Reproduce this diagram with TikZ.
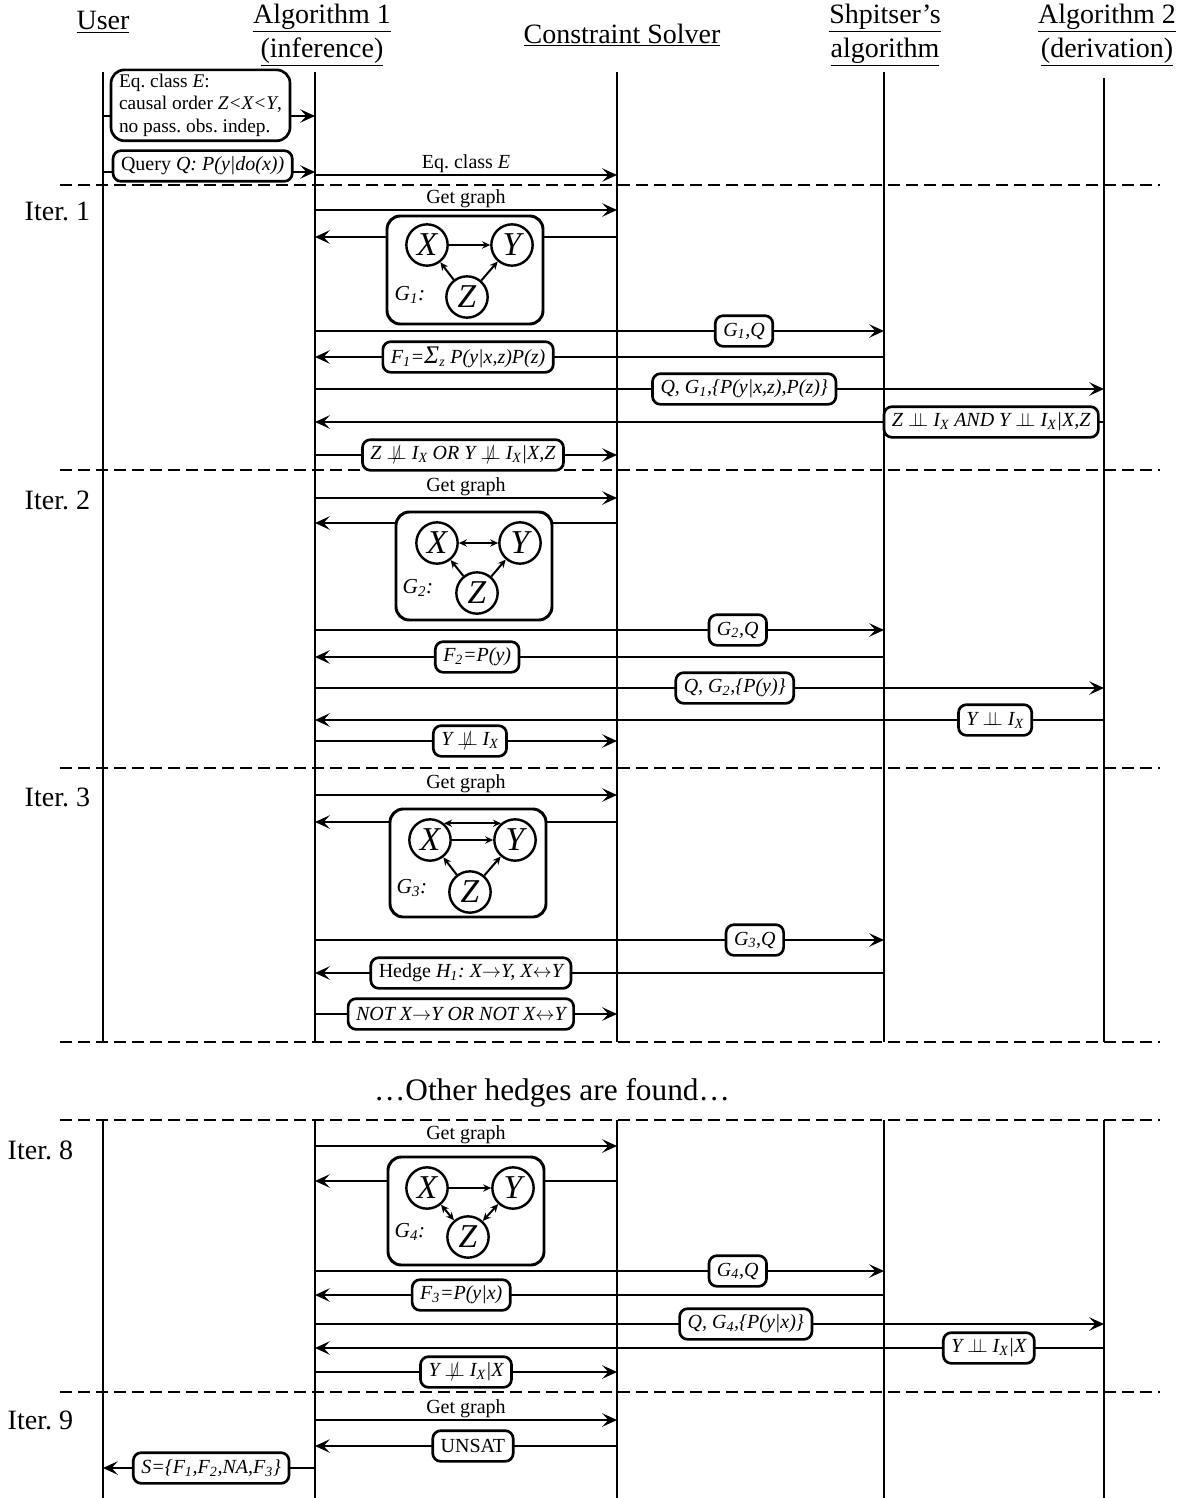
\documentclass[tikz,border=0pt]{standalone}
\usepackage{fontspec}
\setmainfont{Liberation Serif}
\usetikzlibrary{arrows.meta, positioning}
\newcommand\hdfont{\fontsize{21}{25.5}\selectfont}
\newcommand\smfont{\fontsize{15}{17.5}\selectfont}
\newcommand\indepsym{\mathrel{\perp\!\!\!\perp}}
\newcommand\nindepsym{\mathrel{\ooalign{$\perp\!\!\!\perp$\cr\hidewidth$/$\hidewidth\cr}}}
\frenchspacing

\begin{document}
\begin{tikzpicture}[x=0.75pt, y=-0.75pt,
    life/.style={line width=2.2pt},
    msg/.style={line width=2.2pt,
                -{Stealth[length=11pt, width=10pt, inset=4.5pt]}},
    itersep/.style={line width=2pt, dash pattern=on 9pt off 4.5pt},
    lbl/.style={draw, fill=white, rounded corners=6pt, line width=2pt,
                inner xsep=6pt, inner ysep=3pt, minimum height=23pt,
                font=\smfont\itshape},
    msglab/.style={above=-3pt, font=\smfont},
    hd/.style={font=\hdfont, align=center},
    iterlab/.style={font=\hdfont, anchor=west},
    gbox/.style={draw, fill=white, rounded corners=10pt, line width=2.2pt,
                 minimum width=117pt, minimum height=81pt},
    gv/.style={circle, draw, line width=1.8pt, minimum size=31pt,
               inner sep=0pt, font=\fontsize{25}{28}\selectfont\itshape},
    ge/.style={line width=1.5pt,
               -{Stealth[length=6pt, width=5.5pt, inset=2pt]}},
    gbi/.style={line width=1.5pt,
                {Stealth[length=6pt, width=5.5pt, inset=2pt]}-{Stealth[length=6pt, width=5.5pt, inset=2pt]}},
    glab/.style={font=\fontsize{16}{18}\selectfont\itshape},
  ]
  \useasboundingbox (0,0) rectangle (1187,1498);

  % lifelines
  \coordinate (user) at (103,72);
  \coordinate (alg1) at (315,72);
  \coordinate (solver) at (617,72);
  \coordinate (shp) at (884,72);
  \coordinate (alg2) at (1104,78);
  \foreach \c in {user,alg1,solver,shp,alg2}{
    \draw[life] (\c) -- (\c |- 0,1042);
    \draw[life] (\c |- 0,1120) -- (\c |- 0,1498);
  }

  % headers
  \node[hd] (userH) at (103,22) {\underline{User}};
  \node[hd] (alg1H) at (322,35) {\underline{Algorithm 1}\\\underline{(inference)}};
  \node[hd] (solverH) at (622,35) {\underline{Constraint Solver}};
  \node[hd] (shpH) at (885,35) {\underline{Shpitser’s}\\\underline{algorithm}};
  \node[hd] (alg2H) at (1107,35) {\underline{Algorithm 2}\\\underline{(derivation)}};

  % iteration separators
  \foreach \y in {185,470,768,1042,1120,1392}
    \draw[itersep] (60,\y) -- (1160,\y);
  \node[iterlab] (it1) at (20,211) {Iter. 1};
  \node[iterlab] (it2) at (20,500) {Iter. 2};
  \node[iterlab] (it3) at (20,797) {Iter. 3};
  \node[iterlab] (it8) at (3,1150) {Iter. 8};
  \node[iterlab] (it9) at (3,1420) {Iter. 9};
  \node[font=\fontsize{23.5}{27}\selectfont] (other) at (552,1093)
    {…Other hedges are found…};

  % input from the user
  \draw[msg] (user |- 0,116) -- node[lbl, pos=.46, yshift=8pt, align=left,
      rounded corners=10pt, font=\fontsize{14.5}{17}\selectfont] (eqbox)
      {Eq. class \textit{E}:\\causal order \textit{Z<X<Y},\\no pass. obs. indep.}
      (alg1 |- 0,116);
  \draw[msg] (user |- 0,172) -- node[lbl, pos=.47, yshift=4.5pt] (qbox)
      {\textup{Query} Q: P(y|do(x))} (alg1 |- 0,172);
  \draw[msg] (alg1 |- 0,175) -- node[msglab] (eqlab)
      {Eq. class \textit{E}} (solver |- 0,175);

  % Iter. 1
  \draw[msg] (alg1 |- 0,210) -- node[msglab] (gg1) {Get graph} (solver |- 0,210);
  \draw[msg] (solver |- 0,237) -- (alg1 |- 0,237);
  \node[gbox] (g1) at (465,270) {};
  \node[gv] (x1) at (427,245) {X};
  \node[gv] (y1) at (512,245) {Y};
  \node[gv] (z1) at (467,297) {Z};
  \node[glab] (g1lab) at (410,295) {G\textsubscript{1}:};
  \draw[ge] (x1) -- (y1);
  \draw[ge] (z1) -- (x1);
  \draw[ge] (z1) -- (y1);
  \draw[msg] (alg1 |- 0,331) -- node[lbl, pos=.754] (m1a)
      {G\textsubscript{1},Q} (shp |- 0,331);
  \draw[msg] (shp |- 0,357) -- node[lbl, pos=.731] (m1b)
      {F\textsubscript{1}={\fontsize{19}{19}\selectfont Σ}\textsubscript{z} P(y|x,z)P(z)} (alg1 |- 0,357);
  \draw[msg] (alg1 |- 0,389) -- node[lbl, pos=.544] (m1c)
      {Q, G\textsubscript{1},\{P(y|x,z),P(z)\}} (alg2 |- 0,389);
  \draw[msg] (alg2 |- 0,422) -- node[lbl, pos=.143] (m1d)
      {Z $\indepsym$ I\textsubscript{X} AND Y $\indepsym$ I\textsubscript{X}|X,Z} (alg1 |- 0,422);
  \draw[msg] (alg1 |- 0,455) -- node[lbl, pos=.49] (m1e)
      {Z $\nindepsym$ I\textsubscript{X} OR Y $\nindepsym$ I\textsubscript{X}|X,Z} (solver |- 0,455);

  % Iter. 2
  \draw[msg] (alg1 |- 0,498) -- node[msglab] (gg2) {Get graph} (solver |- 0,498);
  \draw[msg] (solver |- 0,523) -- (alg1 |- 0,523);
  \node[gbox] (g2) at (474,566) {};
  \node[gv] (x2) at (437,543) {X};
  \node[gv] (y2) at (520,543) {Y};
  \node[gv] (z2) at (477,593) {Z};
  \node[glab] (g2lab) at (418,588) {G\textsubscript{2}:};
  \draw[gbi] (x2) -- (y2);
  \draw[ge] (z2) -- (x2);
  \draw[ge] (z2) -- (y2);
  \draw[msg] (alg1 |- 0,630) -- node[lbl, pos=.743] (m2a)
      {G\textsubscript{2},Q} (shp |- 0,630);
  \draw[msg] (shp |- 0,657) -- node[lbl, pos=.715] (m2b)
      {F\textsubscript{2}=P(y)} (alg1 |- 0,657);
  \draw[msg] (alg1 |- 0,688) -- node[lbl, pos=.532] (m2c)
      {Q, G\textsubscript{2},\{P(y)\}} (alg2 |- 0,688);
  \draw[msg] (alg2 |- 0,720) -- node[lbl, pos=.138] (m2d)
      {Y $\indepsym$ I\textsubscript{X}} (alg1 |- 0,720);
  \draw[msg] (alg1 |- 0,741) -- node[lbl, pos=.513] (m2e)
      {Y $\nindepsym$ I\textsubscript{X}} (solver |- 0,741);

  % Iter. 3
  \draw[msg] (alg1 |- 0,795) -- node[msglab] (gg3) {Get graph} (solver |- 0,795);
  \draw[msg] (solver |- 0,822) -- (alg1 |- 0,822);
  \node[gbox] (g3) at (468,863) {};
  \node[gv] (x3) at (430,840) {X};
  \node[gv] (y3) at (515,840) {Y};
  \node[gv] (z3) at (470,892) {Z};
  \node[glab] (g3lab) at (412,888) {G\textsubscript{3}:};
  \draw[ge] (x3) -- (y3);
  \draw[gbi] (x3.50) -- (y3.130);
  \draw[ge] (z3) -- (x3);
  \draw[ge] (z3) -- (y3);
  \draw[msg] (alg1 |- 0,940) -- node[lbl, pos=.773] (m3a)
      {G\textsubscript{3},Q} (shp |- 0,940);
  \draw[msg] (shp |- 0,973) -- node[lbl, pos=.726] (m3b)
      {\textup{Hedge} H\textsubscript{1}: X$\rightarrow$Y, X$\leftrightarrow$Y} (alg1 |- 0,973);
  \draw[msg] (alg1 |- 0,1014) -- node[lbl, pos=.483] (m3c)
      {NOT X$\rightarrow$Y OR NOT X$\leftrightarrow$Y} (solver |- 0,1014);

  % Iter. 8
  \draw[msg] (alg1 |- 0,1146) -- node[msglab] (gg8) {Get graph} (solver |- 0,1146);
  \draw[msg] (solver |- 0,1181) -- (alg1 |- 0,1181);
  \node[gbox] (g4) at (466,1211) {};
  \node[gv] (x4) at (427,1188) {X};
  \node[gv] (y4) at (513,1188) {Y};
  \node[gv] (z4) at (468,1237) {Z};
  \node[glab] (g4lab) at (410,1232) {G\textsubscript{4}:};
  \draw[ge] (x4) -- (y4);
  \draw[gbi] (x4) -- (z4);
  \draw[gbi] (y4) -- (z4);
  \draw[msg] (alg1 |- 0,1271) -- node[lbl, pos=.743] (m8a)
      {G\textsubscript{4},Q} (shp |- 0,1271);
  \draw[msg] (shp |- 0,1295) -- node[lbl, pos=.743] (m8b)
      {F\textsubscript{3}=P(y|x)} (alg1 |- 0,1295);
  \draw[msg] (alg1 |- 0,1324) -- node[lbl, pos=.546] (m8c)
      {Q, G\textsubscript{4},\{P(y|x)\}} (alg2 |- 0,1324);
  \draw[msg] (alg2 |- 0,1348) -- node[lbl, pos=.146] (m8d)
      {Y $\indepsym$ I\textsubscript{X}|X} (alg1 |- 0,1348);
  \draw[msg] (alg1 |- 0,1372) -- node[lbl, pos=.5] (m8e)
      {Y $\nindepsym$ I\textsubscript{X}|X} (solver |- 0,1372);

  % Iter. 9
  \draw[msg] (alg1 |- 0,1420) -- node[msglab] (gg9) {Get graph} (solver |- 0,1420);
  \draw[msg] (solver |- 0,1446) -- node[lbl, pos=.477, font=\smfont] (unsat)
      {UNSAT} (alg1 |- 0,1446);
  \draw[msg] (alg1 |- 0,1468) -- node[lbl, pos=.49] (result)
      {S=\{F\textsubscript{1},F\textsubscript{2},NA,F\textsubscript{3}\}} (user |- 0,1468);
\end{tikzpicture}
\end{document}
